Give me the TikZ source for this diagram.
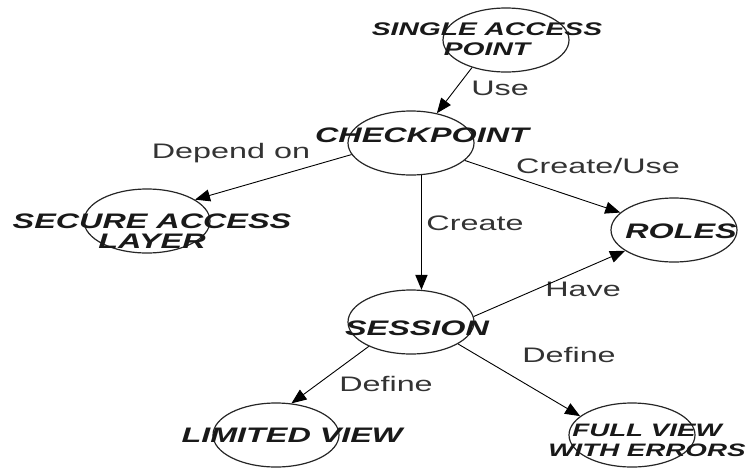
\documentclass[tikz,border=0pt]{standalone}
\usepackage{fontspec}
\setmainfont{Liberation Sans}[FakeStretch=1.54]
\usetikzlibrary{arrows.meta,shapes.geometric}

\begin{document}
\begin{tikzpicture}[
    x=1pt, y=-1pt,
    concept/.style={ellipse, draw=black!85, line width=1.2pt,
        minimum width=126pt, minimum height=64pt, inner sep=0pt},
    title/.style={font=\fontsize{21}{20}\selectfont\bfseries\itshape,
        align=center, inner sep=0pt, text=black!90},
    rel/.style={font=\fontsize{21}{20}\selectfont, inner sep=0pt, text=black!80},
    edge/.style={line width=0.9pt, -{Triangle[length=15pt,width=12pt]}}
]
    \useasboundingbox[fill=white] (0,0) rectangle (749,469);
    \node[concept] (sap) at (506,40) {};
    \node[concept] (cp) at (411,143) {};
    \node[concept] (sal) at (147,221) {};
    \node[concept] (roles) at (674,230) {};
    \node[concept] (sess) at (411,322) {};
    \node[concept] (lv) at (276,435) {};
    \node[concept] (fv) at (632,435) {};
    \node[title, font=\fontsize{18.3}{20}\selectfont\bfseries\itshape] (saptext) at (487,39) {SINGLE ACCESS\\POINT};
    \node[title] (cptext) at (422,135) {CHECKPOINT};
    \node[title] (saltext) at (152,231) {SECURE ACCESS\\LAYER};
    \node[title] (rolestext) at (681,231) {ROLES};
    \node[title] (sesstext) at (417,328) {SESSION};
    \node[title] (lvtext) at (292,435) {LIMITED VIEW};
    \node[title, font=\fontsize{18}{20}\selectfont\bfseries\itshape] (fvtext) at (647,440) {FULL VIEW\\WITH ERRORS};
    \node[rel] (use) at (500,88) {Use};
    \node[rel] (depend) at (231,153) {Depend on};
    \node[rel] (createuse) at (598,166) {Create/Use};
    \node[rel] (create) at (475,223) {Create};
    \node[rel] (have) at (583,289) {Have};
    \node[rel] (defl) at (386,384) {Define};
    \node[rel] (defr) at (569,355) {Define};
    \draw[edge] (sap.219) -- (cp.49);
    \draw[edge] (cp.191) -- (sal.24);
    \draw[edge] (cp.342) -- (roles.162);
    \draw[edge, line width=1.8pt] (cp.288) -- (sess.72);
    \draw[edge] (sess.5) -- (roles.203);
    \draw[edge] (sess.210) -- (lv.64);
    \draw[edge] (sess.335) -- (fv.160);
\end{tikzpicture}
\end{document}
